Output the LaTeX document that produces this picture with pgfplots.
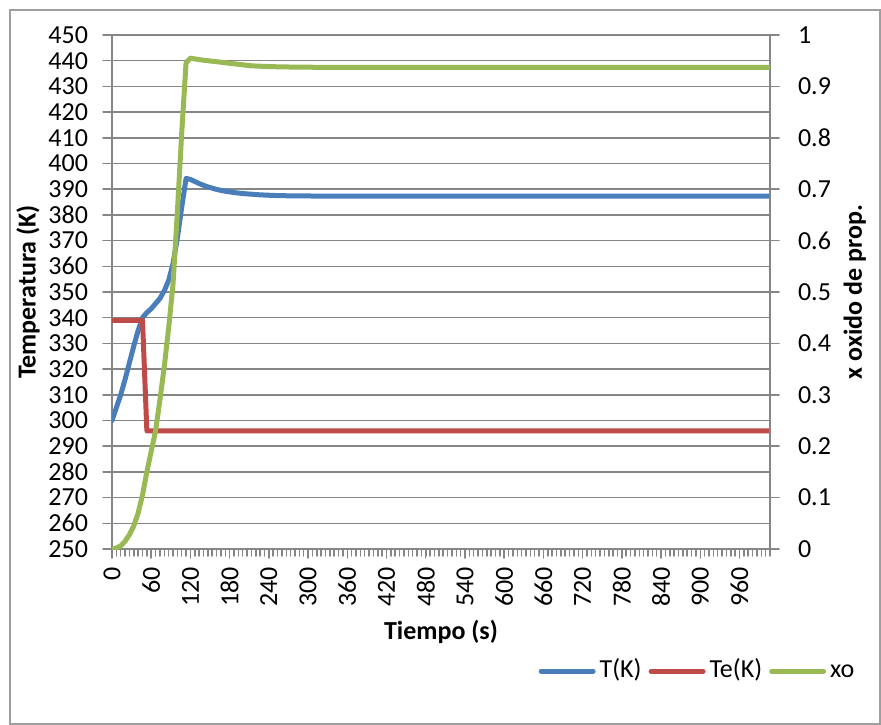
\documentclass[border=0pt]{standalone}
\usepackage{pgfplots}
\pgfplotsset{compat=1.18}
\usepackage{fontspec}
\setmainfont{Carlito}
\definecolor{cblue}{HTML}{4A7EBB}
\definecolor{cred}{HTML}{BE4B48}
\definecolor{cgreen}{HTML}{98B954}
\definecolor{gridgray}{HTML}{868686}
\newcommand{\fs}{\fontsize{13bp}{15.6bp}\selectfont}
\begin{document}
\begin{tikzpicture}
\pgfplotsset{
  common/.style={
    scale only axis, width=329bp, height=257bp,
    xmin=0, xmax=1006.67,
    axis line style={draw=gridgray, line width=0.75bp},
    tick style={draw=gridgray, line width=0.75bp},
    tick align=outside, major tick length=4.5bp, minor tick length=3.5bp,
    tick label style={font=\fs},
    /pgf/number format/assume math mode=true,
    /pgf/number format/set thousands separator={},
  }
}
\begin{axis}[common, name=main,
  ymin=250, ymax=450,
  axis x line*=bottom, axis y line*=left,
  xtick={0,60,...,960},
  minor xtick={0,6.6667,...,1007},
  ytick={250,260,...,450},
  ymajorgrids, grid style={draw=gridgray, line width=0.75bp},
  xticklabel style={rotate=90, anchor=east, font=\fs, xshift=-1bp},
  yticklabel style={font=\fs, xshift=-4bp},
  xlabel={Tiempo (s)}, ylabel={Temperatura (K)},
  every axis x label/.style={at={(axis description cs:0.5,-0.1615)}, anchor=center, font=\fs\bfseries},
  every axis y label/.style={at={(axis description cs:-0.1277,0.5)}, rotate=90, anchor=center, font=\fs\bfseries},
  line cap=round, line join=round,
]
\addplot[cblue, line width=2.5bp] coordinates {
(0,300) (6.67,305) (13.33,310) (20,316) (26.67,322.5) (33.33,329) (40,335) (46.67,340)
(53.33,342) (60,343.5) (66.67,345.5) (73.33,347.5) (80,350.5) (86.67,354.5) (93.33,361)
(100,371) (106.67,383) (113.33,394.2) (120,393.8) (126.67,393) (133.33,392.2) (140,391.5)
(146.67,390.9) (153.33,390.4) (160,389.9) (173.33,389.2) (186.67,388.7) (200,388.3)
(226.67,387.8) (253.33,387.5) (280,387.4) (333.33,387.3) (1006.67,387.3)};
\addplot[cred, line width=2.5bp] coordinates {
(0,339) (46.67,339) (53.33,296) (1006.67,296)};
\end{axis}
\begin{axis}[common,
  ymin=0, ymax=1,
  axis x line=none, axis y line*=right,
  ytick={0,0.1,0.2,0.3,0.4,0.5,0.6,0.7,0.8,0.9,1},
  yticklabel style={/pgf/number format/fixed, /pgf/number format/precision=1, anchor=west, xshift=6bp, font=\fs},
  ylabel={x oxido de prop.},
  every axis y label/.style={at={(axis description cs:1.129,0.5)}, rotate=90, anchor=center, font=\fs\bfseries},
  line cap=round, line join=round,
  legend style={at={(axis description cs:1.144,-0.2375)}, anchor=east, draw=none, fill=none, font=\fs,
    nodes={text height=9.5bp, text depth=3bp},
    /tikz/every even column/.append style={column sep=1.5bp},
    /tikz/every odd column/.append style={column sep=0bp}},
  legend columns=-1,
  legend image code/.code={\draw[#1, line width=2.5bp, line cap=round] (0bp,0bp) -- (26bp,0bp);},
]
\addlegendimage{cblue, line width=2.5bp}
\addlegendentry{T(K)\hspace{7bp}}
\addlegendimage{cred, line width=2.5bp}
\addlegendentry{Te(K)\hspace{7bp}}
\addplot[cgreen, line width=2.5bp] coordinates {
(0,0) (6.67,0.002) (13.33,0.006) (20,0.015) (26.67,0.028) (33.33,0.045) (40,0.07)
(46.67,0.105) (53.33,0.15) (60,0.19) (66.67,0.23) (73.33,0.29) (80,0.355) (86.67,0.43)
(93.33,0.515) (100,0.655) (106.67,0.81) (113.33,0.946) (120,0.955) (126.67,0.9535)
(133.33,0.952) (146.67,0.95) (160,0.948) (186.67,0.944) (213.33,0.940) (240,0.9385)
(280,0.9375) (333.33,0.937) (1006.67,0.937)};
\addlegendentry{xo}
\end{axis}
\draw[gridgray!80, line width=0.75bp] ([shift={(-51bp,-87.5bp)}]main.south west) rectangle ([shift={(55bp,12.5bp)}]main.north east);
\path ([shift={(-56bp,-88bp)}]main.south west) rectangle ([shift={(55.5bp,17.5bp)}]main.north east);
\end{tikzpicture}
\end{document}
